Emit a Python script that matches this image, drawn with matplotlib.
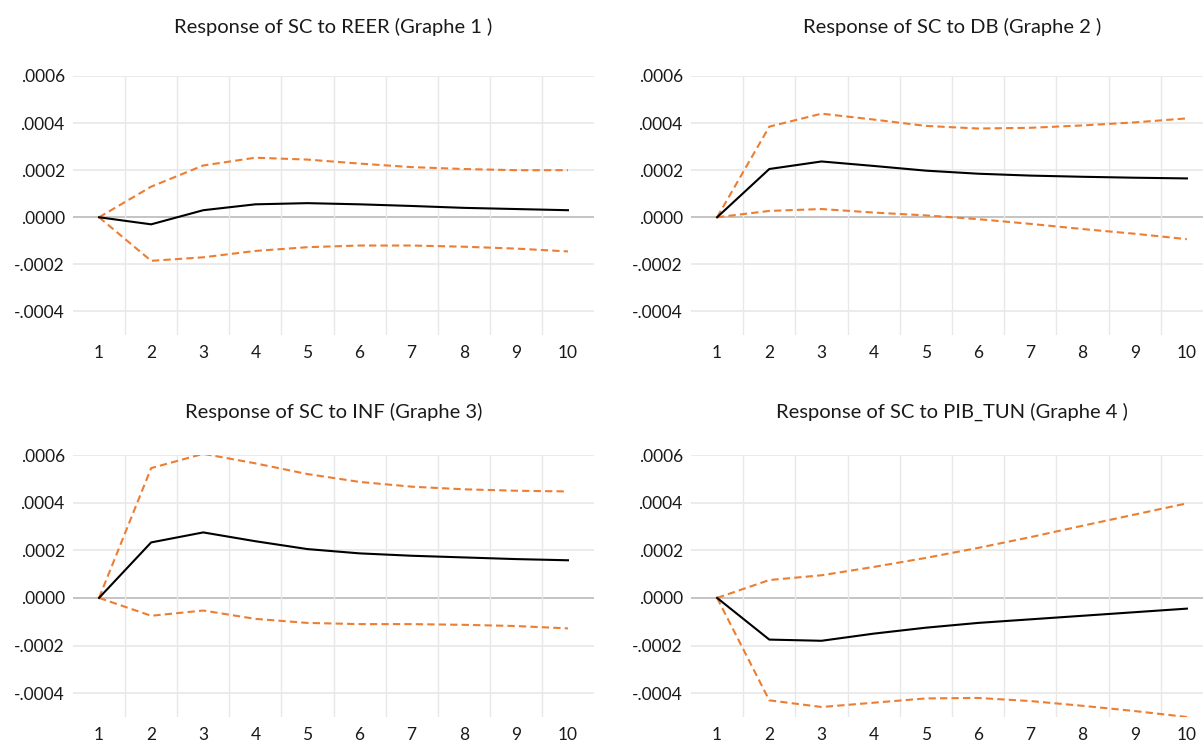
import numpy as np
import matplotlib
matplotlib.use("Agg")
import matplotlib.pyplot as plt
from matplotlib.ticker import FuncFormatter

plt.rcParams['font.family'] = ['Lato', 'DejaVu Sans']

# horizon periods
periods = list(range(1, 11))

titles = ["Response of SC to REER (Graphe 1 )",
          "Response of SC to DB (Graphe 2 )",
          "Response of SC to INF (Graphe 3)",
          "Response of SC to PIB_TUN (Graphe 4 )"]

# responses (point estimate)
resp_reer = [0, -0.00003, 0.00003, 0.000055, 0.00006, 0.000055, 0.000048, 0.00004, 0.000035, 0.00003]
resp_db = [0, 0.000205, 0.000237, 0.000218, 0.000198, 0.000185, 0.000177, 0.000172, 0.000168, 0.000165]
resp_inf = [0, 0.000233, 0.000275, 0.000238, 0.000205, 0.000187, 0.000177, 0.00017, 0.000163, 0.000158]
resp_pib = [0, -0.000175, -0.00018, -0.00015, -0.000125, -0.000105, -0.00009, -0.000075, -0.00006, -0.000045]

# upper bands
up_reer = [0, 0.00013, 0.00022, 0.000253, 0.000245, 0.000228, 0.000213, 0.000205, 0.0002, 0.0002]
up_db = [0, 0.000385, 0.00044, 0.000415, 0.000388, 0.000377, 0.00038, 0.00039, 0.000403, 0.00042]
up_inf = [0, 0.000545, 0.000605, 0.000565, 0.00052, 0.000487, 0.000467, 0.000456, 0.00045, 0.000447]
up_pib = [0, 0.000075, 0.000095, 0.00013, 0.000168, 0.00021, 0.000255, 0.000303, 0.00035, 0.000397]

# lower bands
lo_reer = [0, -0.000185, -0.00017, -0.000143, -0.000127, -0.00012, -0.00012, -0.000125, -0.000133, -0.000145]
lo_db = [0, 0.000027, 0.000035, 0.00002, 0.000008, -0.000008, -0.000028, -0.00005, -0.00007, -0.000093]
lo_inf = [0, -0.000075, -0.000053, -0.000088, -0.000105, -0.00011, -0.00011, -0.000113, -0.000118, -0.000128]
lo_pib = [0, -0.00043, -0.000458, -0.00044, -0.000422, -0.00042, -0.000433, -0.000453, -0.000475, -0.0005]

yticks = [0.0006, 0.0004, 0.0002, 0.0, -0.0002, -0.0004]

responses = [resp_reer, resp_db, resp_inf, resp_pib]
uppers = [up_reer, up_db, up_inf, up_pib]
lowers = [lo_reer, lo_db, lo_inf, lo_pib]

W, H = 1203, 742
fig = plt.figure(figsize=(W / 100, H / 100), dpi=100)

# axes boxes in pixels: left, top, right, bottom
boxes = [(73, 76, 594, 335), (691, 76, 1213, 335),
         (73, 455, 594, 717), (691, 455, 1213, 717)]
title_y = [27, 412]


def fmt(v, pos):
    if abs(v) < 1e-12:
        return ".0000"
    return ("%.4f" % v).replace("0.", ".", 1)


orange = "#ED7D31"
for i, (l, t, r, b) in enumerate(boxes):
    ax = fig.add_axes([l / W, 1 - b / H, (r - l) / W, (b - t) / H])
    ax.set_xlim(0.5, 10.5)
    ax.set_ylim(-0.0005, 0.0006)
    for s in ax.spines.values():
        s.set_visible(False)
    for yv in yticks:
        ax.axhline(yv, color="#BFBFBF" if yv == 0 else "#E8E8E8",
                   lw=1.3 if yv == 0 else 1.2, zorder=1)
    for xv in np.arange(1.5, 10, 1.0):
        ax.axvline(xv, color="#E8E8E8", lw=1.0, zorder=1)
    ax.plot(periods, uppers[i], color=orange, lw=1.5, ls=(0, (3.5, 2)), zorder=3)
    ax.plot(periods, lowers[i], color=orange, lw=1.5, ls=(0, (3.5, 2)), zorder=3)
    ax.plot(periods, responses[i], color="black", lw=1.5, zorder=4)
    ax.set_xticks(periods)
    ax.set_yticks(yticks)
    ax.yaxis.set_major_formatter(FuncFormatter(fmt))
    ax.tick_params(length=0, labelsize=12.5, colors="#1a1a1a")
    ax.tick_params(axis="x", pad=7)
    ax.tick_params(axis="y", pad=6)
    cx = (l + r) / 2
    fig.text(cx / W, 1 - title_y[i // 2] / H, titles[i], ha="center", va="center",
             fontsize=14.5, color="#1a1a1a")

fig.savefig("out.png", dpi=100)
